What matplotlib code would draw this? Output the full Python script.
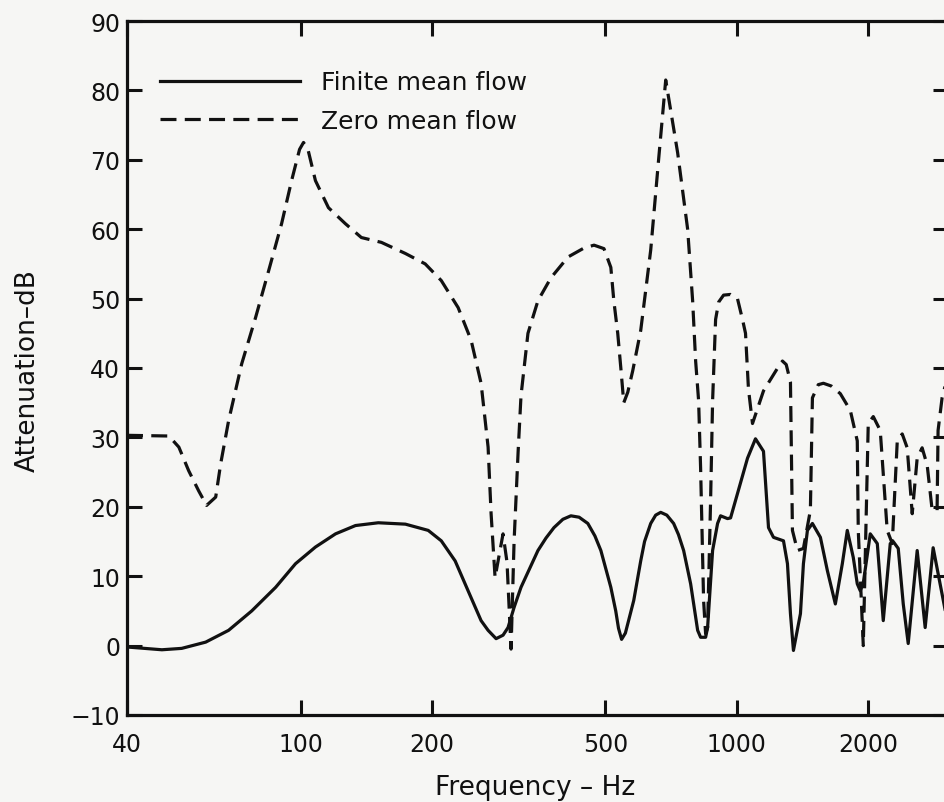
import numpy as np
import matplotlib
matplotlib.use("Agg")
from matplotlib import pyplot as plt
from matplotlib.ticker import FixedLocator, FixedFormatter, NullLocator

# zero mean flow (dashed)
zero_f = [40, 49.9, 52.6, 55.4, 58.4, 60.9, 63.9, 65.6, 68.4, 73.3, 78.9, 84.5,
          90.5, 95.4, 99.5, 101.6, 104, 108.2, 115.9, 126.7, 137.9, 153.3, 174,
          193.2, 210.3, 229.9, 246.2, 259.5, 269.3, 273.6, 279.4, 291.4, 297.6,
          304, 308.9, 315.6, 320.4, 332.4, 350.4, 375.3, 410.8, 447.3, 471.2,
          496.5, 514.9, 523.1, 534, 542.8, 551.3, 563, 578, 602.9, 635.6, 662.6,
          688, 732.8, 772.5, 793.1, 805.8, 818.5, 827.2, 840.4, 849.4, 858.3,
          872, 881.3, 895.4, 909.9, 933.9, 969, 1005, 1032, 1048.6, 1065, 1088,
          1153, 1248, 1274.6, 1300, 1329.5, 1343.5, 1379.4, 1423.7, 1477, 1493,
          1540, 1582, 1650, 1730, 1823.6, 1892, 1902, 1953, 2005, 2059, 2136,
          2216, 2276, 2337, 2399, 2463, 2529, 2596, 2665, 2737, 2810, 2884,
          2899, 2961, 3055]
zero_db = [30.3, 30.2, 28.6, 25.2, 22.3, 20.2, 21.4, 26.2, 32.4, 40.6, 47.3, 54,
           60.8, 67, 71.5, 72.5, 71.5, 67, 63.1, 60.8, 58.8, 58.1, 56.5,
           55, 52.6, 48.7, 44, 37.8, 28.6, 19, 9.8, 16.1, 12,
           -0.5, 15, 28, 36, 45, 49.7, 53, 56, 57.3, 57.7,
           57.2, 54.5, 49.7, 45, 40, 35, 36.5, 39.6, 45.4, 57, 70,
           81.5, 71, 60, 49.7, 41, 35.3, 25.6, 6.5, 1.7, 2.6,
           20.9, 35.3, 47, 49.5, 50.5, 50.6, 50, 47, 45, 37, 32,
           36.7, 40.2, 41, 40.5, 38, 16.6, 13.7, 14, 19.5, 35.7,
           37.6, 37.8, 37.4, 36.3, 33.9, 29.5, 16.6, 0, 32, 33, 31,
           16.6, 14.7, 29.5, 30.5, 28.5, 19, 27, 28.5, 26, 19.5, 19.5,
           31, 35.7, 39]

# finite mean flow (solid)
fin_f = [40, 48.1, 53.4, 60.6, 68.4, 77.3, 87.7, 97.4, 108.2, 120.3, 133.7,
         150.8, 174, 196.3, 210.3, 226.3, 242.3, 259.5, 269.3, 280.9, 291.4,
         299.2, 308.9, 320.4, 350.4, 365.6, 381.3, 399.7, 417, 435.5, 456, 473.4,
         488.5, 514.9, 528.4, 536.2, 545, 556, 581.1, 602.9, 615.3, 635.6, 652.5,
         670, 692, 717.4, 735.9, 756.3, 784.8, 814.4, 827.2, 849.4, 858.3, 881.3,
         904.8, 919.2, 953.6, 969, 1005, 1059.7, 1105.3, 1153, 1184, 1215.5,
         1281.4, 1308.6, 1329.5, 1350.6, 1401.5, 1423.7, 1454.1, 1492.9, 1557.2,
         1615.7, 1685.2, 1748.4, 1794.9, 1852.5, 1892, 1922.3, 1952.9, 2026.5,
         2103, 2170.4, 2252, 2287, 2349, 2412, 2476, 2596.3, 2708, 2824.5, 2930,
         3055]
fin_db = [-0.2, -0.6, -0.4, 0.5, 2.2, 5, 8.4, 11.8, 14.2, 16.1, 17.3,
          17.7, 17.5, 16.6, 15.1, 12.2, 7.9, 3.6, 2.2, 1.0, 1.5,
          2.6, 5.5, 8.4, 13.7, 15.5, 17, 18.2, 18.7, 18.5, 17.6, 15.8,
          13.7, 8.4, 5, 2.5, 0.9, 1.8, 6.5, 12.2, 15, 17.6, 18.8,
          19.2, 18.8, 17.6, 16, 13.7, 8.9, 2.2, 1.2, 1.2, 2.6, 13.7,
          17.6, 18.7, 18.3, 18.4, 21.9, 27, 29.8, 28, 17, 15.6,
          15.1, 11.8, 4.6, -0.7, 4.6, 11.8, 16.6, 17.6, 15.6,
          10.8, 6, 11.8, 16.6, 12.7, 8.9, 7.9, 9, 16.1,
          14.7, 3.6, 14.7, 15, 14, 6, 0.3, 13.7, 2.6, 14.1, 8.9,
          3]

xticks = [40, 100, 200, 500, 1000, 2000]
xlabels = ["40", "100", "200", "500", "1000", "2000"]
yticks = list(range(-10, 100, 10))

plt.rcParams['font.family'] = ['DejaVu Sans']
bg = '#f6f6f4'
ink = '#111111'

fig = plt.figure(figsize=(9.44, 8.03), dpi=100, facecolor=bg)
ax = fig.add_axes([127/944, 87/803, 821/944, 694/803], facecolor=bg)

ax.plot(fin_f, fin_db, color=ink, lw=2.3, label="Finite mean flow",
        solid_joinstyle='round')
dl, = ax.plot(zero_f, zero_db, color=ink, lw=2.3, label="Zero mean flow",
              dash_joinstyle='round')
dl.set_dashes((5, 2.6))

ax.set_xscale('log')
ax.set_xlim(40, 3055)
ax.set_ylim(-10, 90)

ax.xaxis.set_major_locator(FixedLocator(xticks))
ax.xaxis.set_major_formatter(FixedFormatter(xlabels))
ax.xaxis.set_minor_locator(NullLocator())
ax.set_yticks(yticks)

for s in ax.spines.values():
    s.set_linewidth(2.3)
    s.set_color(ink)

ax.tick_params(axis='both', which='major', direction='in', length=11, width=2.2,
               colors=ink, labelsize=17, top=True, right=True)
ax.tick_params(axis='x', pad=12)
ax.tick_params(axis='y', pad=5)

ax.set_xlabel("Frequency – Hz", fontsize=19, color=ink)
ax.xaxis.set_label_coords((535 - 127) / 821, (716 - 788) / 694)
ax.xaxis.label.set_va('center')
ax.set_ylabel("Attenuation–dB", fontsize=19, color=ink, va='center')
ax.yaxis.set_label_coords((28 - 127) / 821, (716 - 371) / 694)

leg = ax.legend(loc='upper left', bbox_to_anchor=(0.040, 0.929), frameon=False,
                fontsize=18, handlelength=5.6, handletextpad=0.85,
                labelspacing=0.58, borderpad=0, borderaxespad=0)
for t in leg.get_texts():
    t.set_color(ink)

fig.savefig("out.png", dpi=100, facecolor=bg)
